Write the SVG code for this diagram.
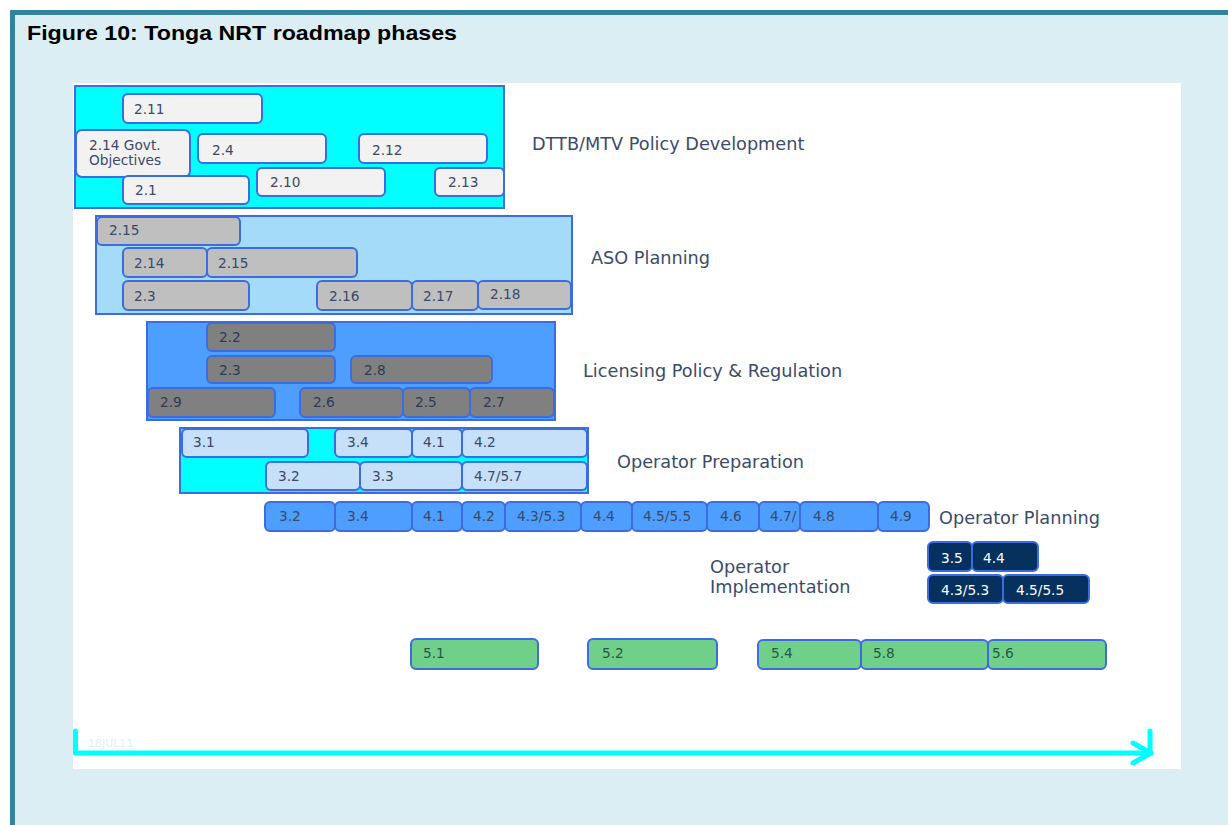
<svg xmlns="http://www.w3.org/2000/svg" width="1228" height="825" viewBox="0 0 1228 825">
<style>
.bx{stroke:#3D6BE0;stroke-width:2}
.w{fill:#F2F2F2}.g1{fill:#BFBFBF}.g2{fill:#808080}.lb{fill:#C6E0F9}.mb{fill:#4D9EFF}.db{fill:#06315F}.gr{fill:#70D08A}
.cy{fill:#00FFFF}.asf{fill:#A4DBF9}
text{font-family:"DejaVu Sans",Verdana,sans-serif;font-size:13.7px;fill:#3A4A68}
.ph{font-size:17.7px;fill:#3B4B6B}
.dk{fill:#2C3A55}.wt{fill:#FFFFFF}.gt{fill:#245A48}
</style>
<rect x="0" y="0" width="1228" height="825" fill="#FFFFFF"/>
<rect x="10" y="10" width="1218" height="815" fill="#DAEEF3"/>
<rect x="10" y="10" width="1218" height="5" fill="#31849B"/>
<rect x="10" y="10" width="5" height="815" fill="#31849B"/>
<text x="27" y="40" style="font-family:'Liberation Sans',Arial,sans-serif;font-weight:bold;font-size:21px;fill:#000000" textLength="430" lengthAdjust="spacingAndGlyphs">Figure 10: Tonga NRT roadmap phases</text>
<rect x="73" y="83" width="1108" height="686" fill="#FFFFFF"/>

<g id="dttb">
<rect class="bx cy" x="75" y="86" width="429" height="122"/>
<text class="ph" x="532" y="150">DTTB/MTV Policy Development</text>
</g>
<g id="n2-11"><rect class="bx w" x="123" y="94" width="139" height="29" rx="5"/><text x="134" y="114">2.11</text></g>
<g id="n2-14g"><rect class="bx w" x="76" y="130" width="114" height="47" rx="6"/><text x="89" y="150">2.14 Govt.</text><text x="89" y="165">Objectives</text></g>
<g id="n2-4"><rect class="bx w" x="198" y="134" width="128" height="29" rx="5"/><text x="212" y="155">2.4</text></g>
<g id="n2-12"><rect class="bx w" x="359" y="134" width="128" height="29" rx="5"/><text x="372" y="155">2.12</text></g>
<g id="n2-1"><rect class="bx w" x="123" y="176" width="126" height="28" rx="5"/><text x="135" y="195">2.1</text></g>
<g id="n2-10"><rect class="bx w" x="257" y="168" width="128" height="28" rx="5"/><text x="270" y="187">2.10</text></g>
<g id="n2-13"><rect class="bx w" x="435" y="168" width="69" height="28" rx="5"/><text x="448" y="187">2.13</text></g>

<g id="aso">
<rect class="bx asf" x="96" y="216" width="476" height="98"/>
<text class="ph" x="591" y="264">ASO Planning</text>
</g>
<g id="a2-15a"><rect class="bx g1" x="97" y="217" width="143" height="28" rx="5"/><text x="109" y="235">2.15</text></g>
<g id="a2-14"><rect class="bx g1" x="123" y="248" width="84" height="29" rx="5"/><text x="134" y="268">2.14</text></g>
<g id="a2-15b"><rect class="bx g1" x="207" y="248" width="150" height="29" rx="5"/><text x="218" y="268">2.15</text></g>
<g id="a2-3"><rect class="bx g1" x="123" y="281" width="126" height="29" rx="5"/><text x="134" y="301">2.3</text></g>
<g id="a2-16"><rect class="bx g1" x="317" y="281" width="95" height="29" rx="5"/><text x="329" y="301">2.16</text></g>
<g id="a2-17"><rect class="bx g1" x="412" y="281" width="66" height="29" rx="5"/><text x="423" y="301">2.17</text></g>
<g id="a2-18"><rect class="bx g1" x="478" y="281" width="93" height="28" rx="5"/><text x="490" y="299">2.18</text></g>

<g id="licensing">
<rect class="bx mb" x="147" y="322" width="408" height="98"/>
<text class="ph" x="583" y="377">Licensing Policy &amp; Regulation</text>
</g>
<g id="l2-2"><rect class="bx g2" x="207" y="323" width="128" height="28" rx="5"/><text class="dk" x="219" y="342">2.2</text></g>
<g id="l2-3"><rect class="bx g2" x="207" y="356" width="128" height="27" rx="5"/><text class="dk" x="219" y="375">2.3</text></g>
<g id="l2-8"><rect class="bx g2" x="351" y="356" width="141" height="27" rx="5"/><text class="dk" x="364" y="375">2.8</text></g>
<g id="l2-9"><rect class="bx g2" x="148" y="388" width="127" height="29" rx="5"/><text class="dk" x="160" y="407">2.9</text></g>
<g id="l2-6"><rect class="bx g2" x="300" y="388" width="103" height="29" rx="5"/><text class="dk" x="313" y="407">2.6</text></g>
<g id="l2-5"><rect class="bx g2" x="403" y="388" width="67" height="29" rx="5"/><text class="dk" x="415" y="407">2.5</text></g>
<g id="l2-7"><rect class="bx g2" x="470" y="388" width="84" height="29" rx="5"/><text class="dk" x="483" y="407">2.7</text></g>

<g id="opprep">
<rect class="bx cy" x="180" y="428" width="408" height="65"/>
<text class="ph" x="617" y="468">Operator Preparation</text>
</g>
<g id="p3-1"><rect class="bx lb" x="182" y="429" width="126" height="28" rx="5"/><text x="193" y="447">3.1</text></g>
<g id="p3-4"><rect class="bx lb" x="335" y="429" width="77" height="28" rx="5"/><text x="347" y="447">3.4</text></g>
<g id="p4-1"><rect class="bx lb" x="412" y="429" width="50" height="28" rx="5"/><text x="423" y="447">4.1</text></g>
<g id="p4-2"><rect class="bx lb" x="462" y="429" width="125" height="28" rx="5"/><text x="474" y="447">4.2</text></g>
<g id="p3-2"><rect class="bx lb" x="266" y="462" width="94" height="28" rx="5"/><text x="278" y="481">3.2</text></g>
<g id="p3-3"><rect class="bx lb" x="360" y="462" width="102" height="28" rx="5"/><text x="372" y="481">3.3</text></g>
<g id="p4-7"><rect class="bx lb" x="462" y="462" width="125" height="28" rx="5"/><text x="474" y="481">4.7/5.7</text></g>

<g id="opplan">
<text class="ph" x="939" y="524">Operator Planning</text>
</g>
<g id="o3-2"><rect class="bx mb" x="265" y="502" width="70" height="29" rx="5"/><text x="279" y="521">3.2</text></g>
<g id="o3-4"><rect class="bx mb" x="335" y="502" width="77" height="29" rx="5"/><text x="347" y="521">3.4</text></g>
<g id="o4-1"><rect class="bx mb" x="412" y="502" width="50" height="29" rx="5"/><text x="423" y="521">4.1</text></g>
<g id="o4-2"><rect class="bx mb" x="462" y="502" width="43" height="29" rx="5"/><text x="473" y="521">4.2</text></g>
<g id="o4-3"><rect class="bx mb" x="505" y="502" width="76" height="29" rx="5"/><text x="517" y="521">4.3/5.3</text></g>
<g id="o4-4"><rect class="bx mb" x="581" y="502" width="51" height="29" rx="5"/><text x="593" y="521">4.4</text></g>
<g id="o4-5"><rect class="bx mb" x="632" y="502" width="75" height="29" rx="5"/><text x="643" y="521">4.5/5.5</text></g>
<g id="o4-6"><rect class="bx mb" x="707" y="502" width="52" height="29" rx="5"/><text x="720" y="521">4.6</text></g>
<g id="o4-7"><rect class="bx mb" x="759" y="502" width="41" height="29" rx="5"/><text x="770" y="521">4.7/</text></g>
<g id="o4-8"><rect class="bx mb" x="800" y="502" width="78" height="29" rx="5"/><text x="813" y="521">4.8</text></g>
<g id="o4-9"><rect class="bx mb" x="878" y="502" width="51" height="29" rx="5"/><text x="890" y="521">4.9</text></g>

<g id="opimpl">
<text class="ph" x="710" y="573">Operator</text>
<text class="ph" x="710" y="593">Implementation</text>
</g>
<g id="i3-5"><rect class="bx db" x="928" y="542" width="44" height="29" rx="5"/><text class="wt" x="941" y="563">3.5</text></g>
<g id="i4-4"><rect class="bx db" x="972" y="542" width="66" height="29" rx="5"/><text class="wt" x="983" y="563">4.4</text></g>
<g id="i4-3"><rect class="bx db" x="928" y="575" width="75" height="28" rx="5"/><text class="wt" x="941" y="595">4.3/5.3</text></g>
<g id="i4-5"><rect class="bx db" x="1003" y="575" width="86" height="28" rx="5"/><text class="wt" x="1016" y="595">4.5/5.5</text></g>

<g id="g5-1"><rect class="bx gr" x="411" y="639" width="127" height="30" rx="5"/><text class="gt" x="423" y="658">5.1</text></g>
<g id="g5-2"><rect class="bx gr" x="588" y="639" width="129" height="30" rx="5"/><text class="gt" x="602" y="658">5.2</text></g>
<g id="g5-4"><rect class="bx gr" x="758" y="640" width="103" height="29" rx="5"/><text class="gt" x="771" y="658">5.4</text></g>
<g id="g5-8"><rect class="bx gr" x="861" y="640" width="127" height="29" rx="5"/><text class="gt" x="873" y="658">5.8</text></g>
<g id="g5-6"><rect class="bx gr" x="988" y="640" width="118" height="29" rx="5"/><text class="gt" x="992" y="658">5.6</text></g>

<g id="connectors" fill="none" stroke="#00FFFF" stroke-width="5" stroke-linecap="round" stroke-linejoin="round">
<path d="M75.5 731 V753 H1151"/>
<path d="M1150 731 V753"/>
<path d="M1133 743 L1151 753 L1133 763"/>
</g>
<text x="88" y="747" style="font-size:11px;fill:#E6EEF5">18JUL11</text>
</svg>
